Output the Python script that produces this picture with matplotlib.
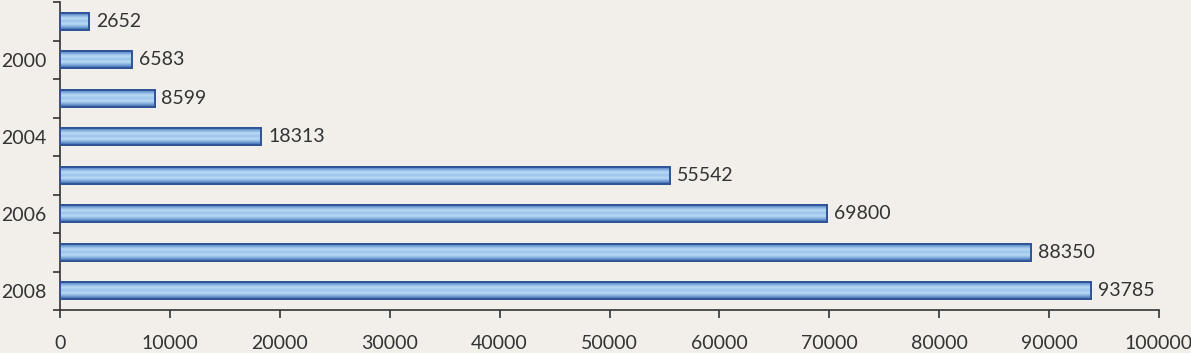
import numpy as np
from matplotlib import pyplot as plt, colors as colors

# data (top to bottom)
years = ["", "2000", "", "2004", "", "2006", "", "2008"]
values = [2652, 6583, 8599, 18313, 55542, 69800, 88350, 93785]
xticks = np.arange(0, 100001, 10000)

BG = "#f2efea"
TXT = "#333333"
FS = 14

plt.rcParams['font.family'] = ['Lato', 'DejaVu Sans']

fig = plt.figure(figsize=(11.91, 3.53), dpi=100, facecolor=BG)
ax = fig.add_axes([60 / 1191, 43 / 353, 1099 / 1191, 308 / 353])
ax.set_facecolor(BG)

pos = np.arange(len(values))
bars = ax.barh(pos, values, height=0.45, color="#a9cdee",
               edgecolor="#2f5597", linewidth=1.2, zorder=3)

# vertical gradient inside each bar
grad = colors.LinearSegmentedColormap.from_list(
    "g", ["#345fa3", "#7aa6da", "#bcdcf5", "#98c3ea", "#bcdcf5", "#7aa6da", "#345fa3"])
g = np.linspace(0, 1, 64).reshape(-1, 1)
for b in bars:
    x0, y0 = b.get_x(), b.get_y()
    w, h = b.get_width(), b.get_height()
    im = ax.imshow(g, cmap=grad, aspect="auto", extent=[x0, x0 + w, y0 + h, y0],
                   zorder=3.5, interpolation="bicubic")
    im.set_clip_path(b)
ax.barh(pos, values, height=0.45, color="none", edgecolor="#2f5597",
        linewidth=1.4, zorder=4)

for p, v in zip(pos, values):
    ax.annotate(str(v), (v, p), xytext=(5, 0), textcoords="offset points",
                va="center", ha="left", fontsize=FS, color=TXT)

ax.set_xlim(0, 100000)
ax.set_ylim(len(values) - 0.5, -0.5)
ax.set_xticks(xticks)
ax.set_xticklabels([str(t) for t in xticks], fontsize=FS, color=TXT)
ax.set_yticks(pos)
ax.set_yticklabels(years, fontsize=FS, color=TXT)
ax.set_yticks(np.arange(-0.5, len(values)), minor=True)
ax.tick_params(axis="y", which="major", length=0, pad=10)
ax.tick_params(axis="y", which="minor", length=5, width=1.2, color=TXT)
ax.tick_params(axis="x", length=6, width=1.2, color=TXT, pad=12)

for s in ["top", "right"]:
    ax.spines[s].set_visible(False)
for s in ["left", "bottom"]:
    ax.spines[s].set_color(TXT)
    ax.spines[s].set_linewidth(1.2)

plt.savefig("out.png", dpi=100, facecolor=BG)
